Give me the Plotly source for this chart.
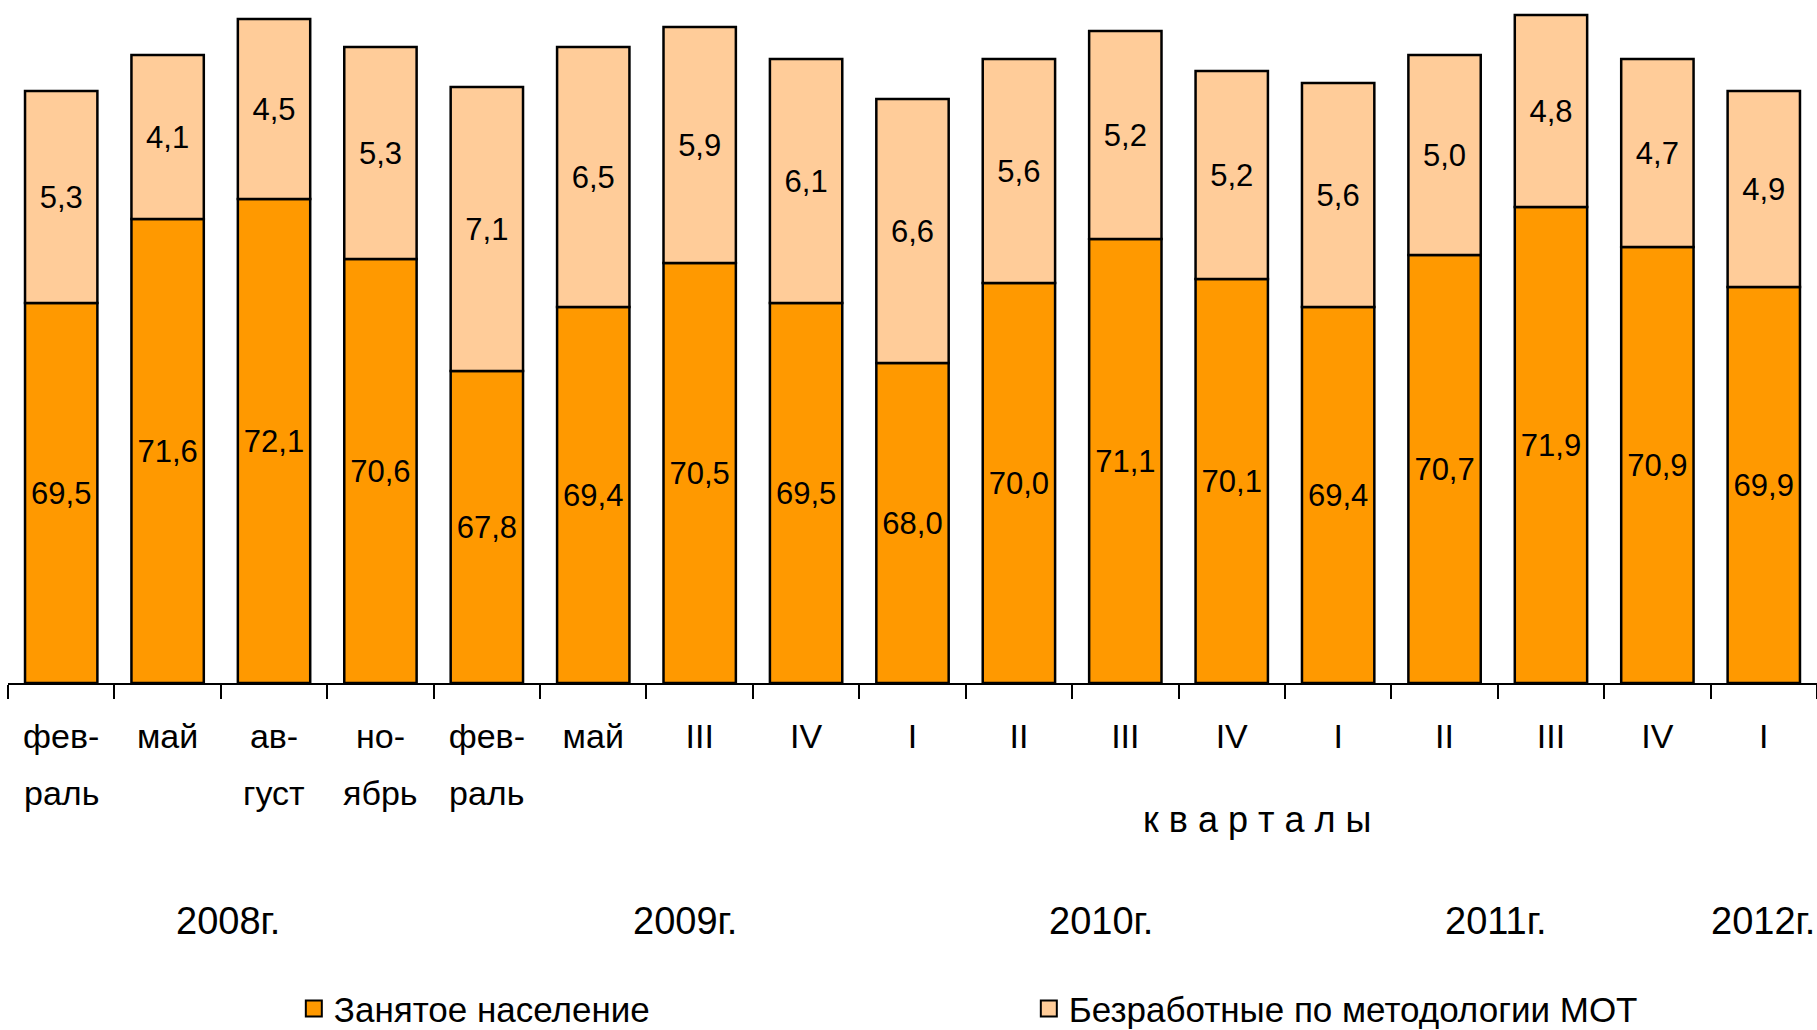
import plotly.graph_objects as go

# ---- data ----
categories = ["фев-<br>раль", "май", "ав-<br>густ", "но-<br>ябрь", "фев-<br>раль", "май",
              "III", "IV", "I", "II", "III", "IV", "I", "II", "III", "IV", "I"]
employed = [69.5, 71.6, 72.1, 70.6, 67.8, 69.4, 70.5, 69.5, 68.0, 70.0, 71.1, 70.1,
            69.4, 70.7, 71.9, 70.9, 69.9]
unemployed = [5.3, 4.1, 4.5, 5.3, 7.1, 6.5, 5.9, 6.1, 6.6, 5.6, 5.2, 5.2,
              5.6, 5.0, 4.8, 4.7, 4.9]
series_names = ["Занятое население", "Безработные по методологии МОТ"]
years = ["2008г.", "2009г.", "2010г.", "2011г.", "2012г."]
quarters_label = "к в а р т а л ы"

# ---- styling / layout ----
FONT = "Liberation Sans, Arial, sans-serif"
DARK = "#FF9900"
LIGHT = "#FFCC99"
Y_MIN, Y_MAX = 60, 77

n = len(categories)
idx = list(range(n))
boundaries = [i - 0.5 for i in range(n + 1)]
first_lines = [c.split("<br>")[0] for c in categories]
second_lines = [c.split("<br>")[1] if "<br>" in c else "" for c in categories]


def fmt(v):
    return f"{v:.1f}".replace(".", ",")


fig = go.Figure()
# employed: drawn from the axis floor up to its value
fig.add_trace(go.Bar(
    x=idx, y=[v - Y_MIN for v in employed], base=Y_MIN, name=series_names[0],
    marker=dict(color=DARK, line=dict(color="black", width=2.5)),
    text=[fmt(v) for v in employed], texttemplate="%{text}",
    textposition="inside", insidetextanchor="middle",
    textangle=0, constraintext="none", showlegend=False,
    textfont=dict(family=FONT, size=31, color="black"),
))
# unemployed: stacked on top of employed
fig.add_trace(go.Bar(
    x=idx, y=unemployed, base=employed, name=series_names[1],
    marker=dict(color=LIGHT, line=dict(color="black", width=2.5)),
    text=[fmt(v) for v in unemployed], texttemplate="%{text}",
    textposition="inside", insidetextanchor="middle",
    textangle=0, constraintext="none", showlegend=False,
    textfont=dict(family=FONT, size=31, color="black"),
))
# legend entries (square swatches)
for nm, col in zip(series_names, [DARK, LIGHT]):
    fig.add_trace(go.Scatter(
        x=[None], y=[None], mode="markers", name=nm,
        marker=dict(symbol="square", size=16, color=col,
                    line=dict(color="black", width=2)),
    ))

fig.update_layout(
    template="none",
    width=1817, height=1030,
    margin=dict(l=8, r=0, t=3, b=347, autoexpand=False),
    barmode="overlay", bargap=0.32,
    plot_bgcolor="white", paper_bgcolor="white",
    font=dict(family=FONT, color="black"),
    showlegend=True,
    legend=dict(orientation="h", x=0.158, y=-0.479, xanchor="left", yanchor="middle",
                font=dict(family=FONT, size=35, color="black"),
                entrywidth=690, entrywidthmode="pixels",
                traceorder="normal", itemclick=False, bgcolor="rgba(0,0,0,0)"),
)
fig.update_xaxes(
    tickmode="array", tickvals=idx, ticktext=first_lines,
    range=[-0.5, n - 0.5], automargin=False,
    showline=True, linecolor="black", linewidth=2,
    ticks="",
    minor=dict(tickmode="array", tickvals=boundaries, ticks="outside",
               ticklen=14, tickwidth=2, tickcolor="black", showgrid=False),
    tickfont=dict(family=FONT, size=34, color="black"),
    ticklabelstandoff=22,
    showgrid=False, zeroline=False,
)
fig.update_yaxes(range=[Y_MIN, Y_MAX], visible=False, showgrid=False,
                 zeroline=False, automargin=False)

# second line of the two-line month labels
for xp, t in zip(idx, second_lines):
    if t:
        fig.add_annotation(x=xp, xref="x", y=-0.162, yref="paper", text=t,
                           showarrow=False, xanchor="center", yanchor="middle",
                           font=dict(family=FONT, size=34, color="black"))

# year labels under the categories
year_pos = [1.57, 5.86, 9.77, 13.48, 15.99]
for yl, xp in zip(years, year_pos):
    fig.add_annotation(x=xp, xref="x", y=-0.35, yref="paper", text=yl,
                       showarrow=False, xanchor="center", yanchor="middle",
                       font=dict(family=FONT, size=38, color="black"))
fig.add_annotation(x=11.24, xref="x", y=-0.2, yref="paper",
                   text=quarters_label.replace(" ", "\u00a0"),
                   showarrow=False, xanchor="center", yanchor="middle",
                   font=dict(family=FONT, size=36, color="black"))

fig.write_html("out.html", config={"displayModeBar": False},
               post_script="document.body.style.margin='0px';")
